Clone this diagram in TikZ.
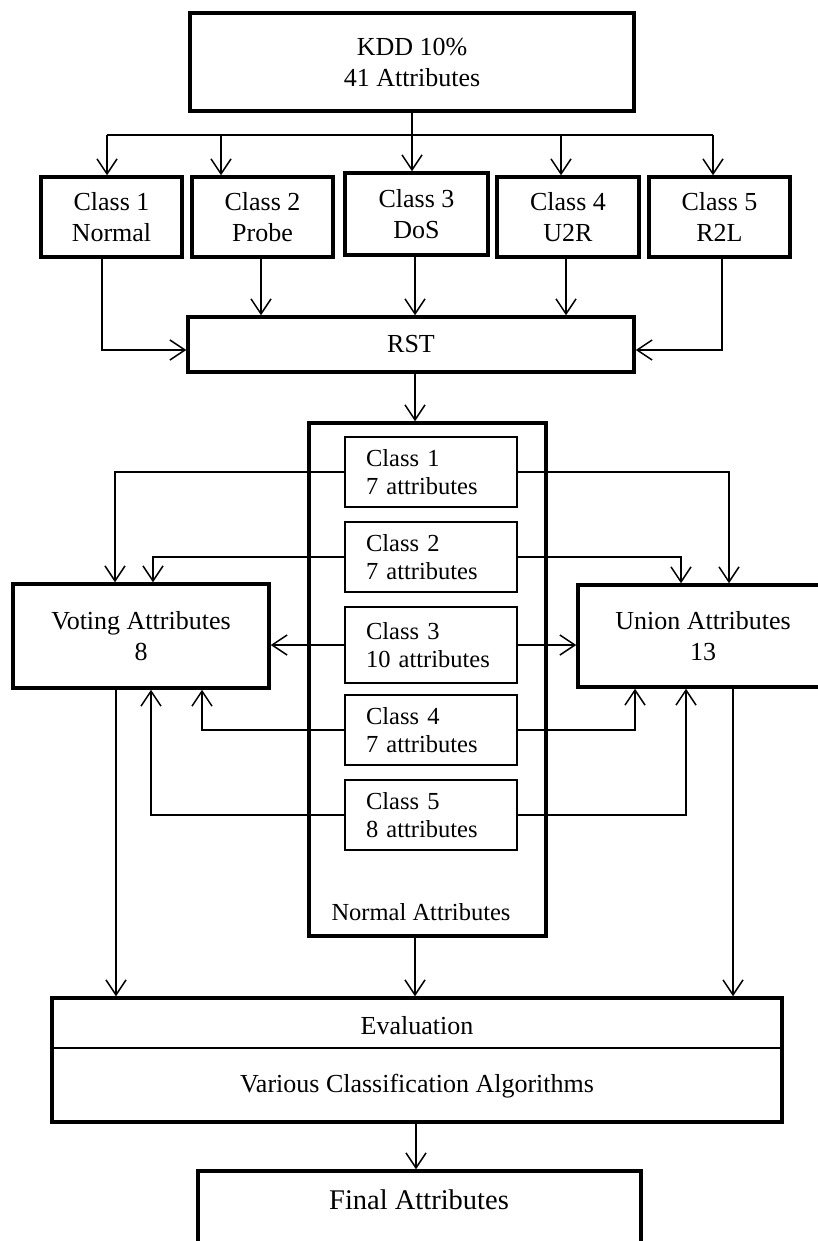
\documentclass[tikz,border=0pt]{standalone}
\usepackage{fontspec}
\setmainfont{Liberation Serif}
\usetikzlibrary{arrows.meta,calc}
\begin{document}
\begin{tikzpicture}[x=1pt,y=-1pt,
  thickbox/.style={draw, line width=3.5pt, inner sep=0pt, align=center, font=\fontsize{26}{31}\selectfont},
  innerbox/.style={draw, line width=2pt, inner ysep=0pt, inner xsep=21pt, minimum width=172pt, minimum height=70pt, text width=130pt, align=left, font=\fontsize{24.5}{28}\selectfont},
  conn/.style={line width=1.5pt, -{Straight Barb[length=15pt,width=20pt]}},
  plain/.style={line width=1.5pt},
  lbl/.style={inner sep=0pt, font=\fontsize{26}{30}\selectfont}]
\useasboundingbox (0,0) rectangle (818,1241);

% top
\node[thickbox, minimum width=444pt, minimum height=98pt] (kdd) at (412,62) {KDD 10\%\\41 Attributes};
\node[thickbox, minimum width=141pt, minimum height=80pt] (c1) at (111.5,217) {Class 1\\Normal};
\node[thickbox, minimum width=141pt, minimum height=80pt] (c2) at (262.5,217) {Class 2\\Probe};
\node[thickbox, minimum width=143pt, minimum height=82pt] (c3) at (416.5,214) {Class 3\\DoS};
\node[thickbox, minimum width=142pt, minimum height=80pt] (c4) at (568,217) {Class 4\\U2R};
\node[thickbox, minimum width=141pt, minimum height=80pt] (c5) at (719.5,217) {Class 5\\R2L};

\coordinate (bus) at (412,135);
\coordinate (b1) at (107,135);
\coordinate (b2) at (221,135);
\coordinate (b4) at (561,135);
\coordinate (b5) at (713,135);
\draw[plain] (kdd.south) -- (bus);
\draw[plain] (b1) -- (b5);
\draw[conn] (b1) -- (b1 |- c1.north);
\draw[conn] (b2) -- (b2 |- c2.north);
\draw[conn] (bus) -- (bus |- c3.north);
\draw[conn] (b4) -- (b4 |- c4.north);
\draw[conn] (b5) -- (b5 |- c5.north);

% RST
\node[thickbox, minimum width=446pt, minimum height=55pt] (rst) at (411,344.5) {RST};
\coordinate (r1) at (102,350);
\coordinate (r5) at (722,350);
\coordinate (x2) at (261,0);
\coordinate (x3) at (415,0);
\coordinate (x4) at (566,0);
\draw[conn] (c1.south -| r1) -- (r1) -- (r1 -| rst.west);
\draw[conn] (c5.south -| r5) -- (r5) -- (r5 -| rst.east);
\draw[conn] (x2 |- c2.south) -- (x2 |- rst.north);
\draw[conn] (x3 |- c3.south) -- (x3 |- rst.north);
\draw[conn] (x4 |- c4.south) -- (x4 |- rst.north);

% normal attributes container
\node[draw, line width=3.5pt, minimum width=237pt, minimum height=513pt, inner sep=0pt] (norm) at (427.5,679.5) {};
\node[inner sep=0pt, font=\fontsize{24.5}{30}\selectfont] (normlbl) at (421,912) {Normal Attributes};
\draw[conn] (x3 |- rst.south) -- (x3 |- norm.north);

\node[innerbox] (i1) at (431,472) {Class 1\\7 attributes};
\node[innerbox] (i2) at (431,557) {Class 2\\7 attributes};
\node[innerbox, minimum height=76pt] (i3) at (431,645) {Class 3\\10 attributes};
\node[innerbox] (i4) at (431,730) {Class 4\\7 attributes};
\node[innerbox] (i5) at (431,815) {Class 5\\8 attributes};

% voting / union
\node[thickbox, minimum width=256pt, minimum height=104pt] (vote) at (141,636) {Voting Attributes\\8};
\node[thickbox, minimum width=250pt, minimum height=102pt] (union) at (703,636) {Union Attributes\\13};

\coordinate (vl1) at (115,0);
\coordinate (vl2) at (153,0);
\coordinate (vl4) at (202,0);
\coordinate (vl5) at (151,0);
\coordinate (ur1) at (729,0);
\coordinate (ur2) at (681,0);
\coordinate (ur4) at (635,0);
\coordinate (ur5) at (686,0);
\draw[conn] (i1.west) -| (vl1 |- vote.north);
\draw[conn] (i2.west) -| (vl2 |- vote.north);
\draw[conn] (i3.west) -- (i3.west -| vote.east);
\draw[conn] (i4.west) -| (vl4 |- vote.south);
\draw[conn] (i5.west) -| (vl5 |- vote.south);
\draw[conn] (i1.east) -| (ur1 |- union.north);
\draw[conn] (i2.east) -| (ur2 |- union.north);
\draw[conn] (i3.east) -- (i3.east -| union.west);
\draw[conn] (i4.east) -| (ur4 |- union.south);
\draw[conn] (i5.east) -| (ur5 |- union.south);

% evaluation
\node[draw, line width=3.5pt, minimum width=730pt, minimum height=124pt, inner sep=0pt] (eval) at (417,1060) {};
\coordinate (dv) at (0,1048);
\draw[line width=1.5pt] (eval.west |- dv) -- (eval.east |- dv);
\node[lbl] (evtop) at (417,1026) {Evaluation};
\node[lbl] (evbot) at (417,1086) {Various Classification Algorithms};

\coordinate (vd) at (116,0);
\coordinate (ud) at (733,0);
\draw[conn] (vd |- vote.south) -- (vd |- eval.north);
\draw[conn] (ud |- union.south) -- (ud |- eval.north);
\draw[conn] (x3 |- norm.south) -- (x3 |- eval.north);

% final
\node[draw, line width=3.5pt, minimum width=443pt, minimum height=138pt, inner sep=0pt] (final) at (419.5,1240) {};
\node[inner sep=0pt, font=\fontsize{28.5}{34}\selectfont] (finlbl) at (419,1200) {Final Attributes};
\coordinate (xf) at (416,0);
\draw[conn] (xf |- eval.south) -- (xf |- final.north);
\end{tikzpicture}
\end{document}
